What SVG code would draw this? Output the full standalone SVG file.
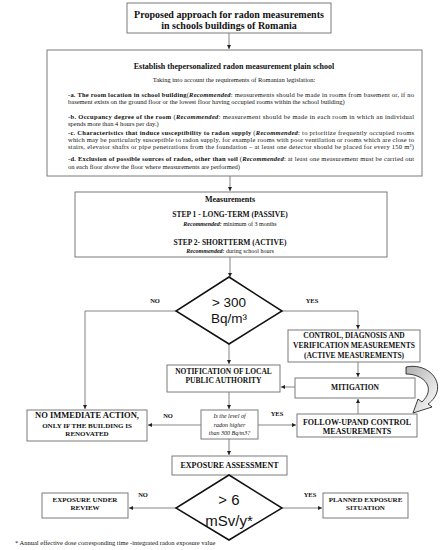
<svg xmlns="http://www.w3.org/2000/svg" width="447" height="550" viewBox="0 0 447 550">
<defs>
<marker id="ah" viewBox="0 0 6 6" refX="6" refY="3" markerWidth="4" markerHeight="4" orient="auto" markerUnits="userSpaceOnUse"><path d="M0,0 L6,3 L0,6 z" fill="#222"/></marker>
<linearGradient id="cg" x1="0" y1="0" x2="1" y2="1"><stop offset="0" stop-color="#b0b0b0"/><stop offset="1" stop-color="#ffffff"/></linearGradient>
<style>
.bx{fill:#fff;stroke:#7a7a7a;stroke-width:1}
.dm{fill:#fff;stroke:#111;stroke-width:1.5}
.cn{fill:none;stroke:#666;stroke-width:0.8;marker-end:url(#ah)}
.s{font-family:"Liberation Serif","Times New Roman",serif;fill:#111}
.b{font-weight:bold}
.i{font-style:italic}
.c{text-anchor:middle}
.sn{font-family:"Liberation Sans",Arial,sans-serif;fill:#111;text-anchor:middle}
</style>
</defs>
<rect width="447" height="550" fill="#fff"/>

<g id="connectors">
<path class="cn" d="M229,33 V49"/>
<path class="cn" d="M230,176 V191"/>
<path class="cn" d="M230,257 V277"/>
<path class="cn" d="M176,311 H85 V409"/>
<path class="cn" d="M282,311 H358 V329"/>
<path class="cn" d="M229,344 V364"/>
<path class="cn" d="M358,362 V377"/>
<path class="cn" d="M295,387 H281"/>
<path class="cn" d="M229,392 V409"/>
<path class="cn" d="M201,425 H148"/>
<path class="cn" d="M258,425 H296"/>
<path class="cn" d="M358,414 V399"/>
<path class="cn" d="M229,439 V455"/>
<path class="cn" d="M176,508 H129"/>
<path class="cn" d="M282,508 H322"/>
<path d="M406,367 C425,363 441,377 437,392 C435,398 431,402 428,404 L432,407 L413,413 L418,399 L422,402 C428,396 430,390 427,384 C423,377 414,374 406,374 Z" fill="url(#cg)" stroke="#111" stroke-width="0.8"/>
<text class="s b c" x="155" y="303" font-size="6.5">NO</text>
<text class="s b c" x="312" y="303" font-size="6.5">YES</text>
<text class="s b c" x="168" y="418" font-size="6.5">NO</text>
<text class="s b c" x="277" y="416" font-size="6.5">YES</text>
<text class="s b c" x="143" y="497" font-size="6.5">NO</text>
<text class="s b c" x="310" y="497" font-size="6.5">YES</text>
</g>

<g id="title">
<rect class="bx" x="127" y="3" width="204" height="30"/>
<text class="s b c" x="229" y="18" font-size="10">Proposed approach for radon measurements</text>
<text class="s b c" x="229" y="29" font-size="10">in schools buildings of Romania</text>
</g>

<g id="plan">
<rect class="bx" x="47" y="50" width="375" height="126"/>
<text class="s b c" x="234" y="69" font-size="8">Establish thepersonalized radon measurement plain school</text>
<text class="s c" x="234" y="82" font-size="6.5">Taking into account the requirements of Romanian legislation:</text>
<text class="s" x="68" y="97" font-size="6.5" textLength="346" lengthAdjust="spacing"><tspan class="b">-a. The room location in school building</tspan>(<tspan class="b i">Recommended</tspan>: measurements should be made in rooms from basement or, if no</text>
<text class="s" x="68" y="104" font-size="6.5">basement exists on the ground floor or the lowest floor having occupied rooms within the school building)</text>
<text class="s" x="68" y="119" font-size="6.5" textLength="346" lengthAdjust="spacing"><tspan class="b">-b. Occupancy degree of the room</tspan> (<tspan class="b i">Recommended</tspan>: measurement should be made in each room in which an individual</text>
<text class="s" x="68" y="126" font-size="6.5">spends more than 4 hours per day.)</text>
<text class="s" x="68" y="135" font-size="6.5" textLength="346" lengthAdjust="spacing"><tspan class="b">-c. Characteristics that induce susceptibility to radon supply</tspan> (<tspan class="b i">Recommended</tspan>: to prioritize frequently occupied rooms</text>
<text class="s" x="68" y="142" font-size="6.5" textLength="346" lengthAdjust="spacing">which may be particularly susceptible to radon supply, for example rooms with poor ventilation or rooms which are close to</text>
<text class="s" x="68" y="149" font-size="6.5" textLength="346" lengthAdjust="spacing">stairs, elevator shafts or pipe penetrations from the foundation – at least one detector should be placed for every 150 m²)</text>
<text class="s" x="68" y="161" font-size="6.5" textLength="346" lengthAdjust="spacing"><tspan class="b">-d. Exclusion of possible sources of radon, other than soil</tspan> (<tspan class="b i">Recommended</tspan>: at least one measurement must be carried out</text>
<text class="s" x="68" y="168.5" font-size="6.5">on each floor above the floor where measurements are performed)</text>
</g>

<g id="measurements">
<rect class="bx" x="75" y="192" width="312" height="65"/>
<text class="s b c" x="230" y="202" font-size="8">Measurements</text>
<text class="s b c" x="230" y="217" font-size="7.5">STEP 1 - LONG-TERM (PASSIVE)</text>
<text class="s c" x="230" y="225.5" font-size="6"><tspan class="b i">Recommended:</tspan> minimum of 3 months</text>
<text class="s b c" x="230" y="244.5" font-size="7.5">STEP 2- SHORTTERM (ACTIVE)</text>
<text class="s c" x="230" y="253" font-size="6"><tspan class="b i">Recommended:</tspan> during school hours</text>
</g>

<g id="decision300">
<path class="dm" d="M229,277 L282,311 L229,344 L176,311 Z"/>
<text class="sn" x="229" y="307" font-size="13.5">&gt; 300</text>
<text class="sn" x="229" y="323" font-size="13.5">Bq/m³</text>
</g>

<g id="control">
<rect class="bx" x="288" y="330" width="132" height="32"/>
<text class="s b c" x="354" y="337.5" font-size="7.5">CONTROL, DIAGNOSIS AND</text>
<text class="s b c" x="354" y="348" font-size="7.5">VERIFICATION MEASUREMENTS</text>
<text class="s b c" x="354" y="358" font-size="7.5">(ACTIVE MEASUREMENTS)</text>
</g>

<g id="notification">
<rect class="bx" x="167" y="365" width="113" height="27"/>
<text class="s b c" x="223.5" y="373.5" font-size="7.5">NOTIFICATION OF LOCAL</text>
<text class="s b c" x="223.5" y="382.5" font-size="7.5">PUBLIC AUTHORITY</text>
</g>

<g id="mitigation">
<rect class="bx" x="295" y="378" width="120" height="20"/>
<text class="s b c" x="355" y="390" font-size="7.5">MITIGATION</text>
</g>

<g id="noaction">
<rect class="bx" x="27" y="410" width="120" height="31"/>
<text class="s b c" x="87" y="418" font-size="8.5">NO IMMEDIATE ACTION,</text>
<text class="s b c" x="87" y="427.5" font-size="7">ONLY IF THE BUILDING IS</text>
<text class="s b c" x="87" y="436" font-size="7">RENOVATED</text>
</g>

<g id="question">
<rect class="bx" x="201" y="410" width="57" height="29"/>
<text class="s i c" x="229.5" y="418" font-size="6">Is the level of</text>
<text class="s i c" x="229.5" y="426.5" font-size="6">radon higher</text>
<text class="s i c" x="229.5" y="435" font-size="6">than 300 Bq/m3?</text>
</g>

<g id="followup">
<rect class="bx" x="297" y="414" width="120" height="23"/>
<text class="s b c" x="357" y="424.5" font-size="8">FOLLOW-UPAND CONTROL</text>
<text class="s b c" x="357" y="434" font-size="8">MEASUREMENTS</text>
</g>

<g id="exposure">
<rect class="bx" x="172" y="456" width="115" height="19"/>
<text class="s b c" x="229.5" y="468" font-size="8">EXPOSURE ASSESSMENT</text>
</g>

<g id="decision6">
<path class="dm" d="M229,475 L282,508 L229,540 L176,508 Z"/>
<text class="sn" x="229" y="505" font-size="15">&gt; 6</text>
<text class="sn" x="229" y="526" font-size="15">mSv/y*</text>
</g>

<g id="review">
<rect class="bx" x="42" y="493" width="86" height="25"/>
<text class="s b c" x="85" y="502" font-size="7">EXPOSURE UNDER</text>
<text class="s b c" x="85" y="510" font-size="7">REVIEW</text>
</g>

<g id="planned">
<rect class="bx" x="323" y="493" width="85" height="25"/>
<text class="s b c" x="365.5" y="502" font-size="7">PLANNED EXPOSURE</text>
<text class="s b c" x="365.5" y="510" font-size="7">SITUATION</text>
</g>

<text class="s" x="15" y="545" font-size="6.5">* Annual effective dose corresponding time -integrated radon exposure value</text>
</svg>
